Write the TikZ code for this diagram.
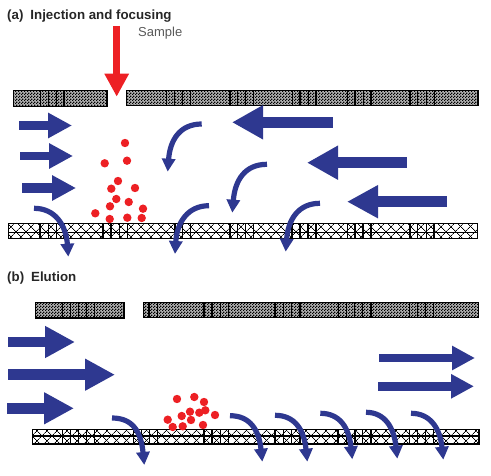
\documentclass[tikz,border=0pt]{standalone}
\usepackage{fontspec}
\setmainfont{Liberation Sans}
\usetikzlibrary{arrows.meta,patterns,patterns.meta}
\definecolor{flowblue}{RGB}{46,56,144}
\definecolor{samplered}{RGB}{237,32,36}
\pgfdeclarepatternformonly{finecheck}{\pgfqpoint{0pt}{0pt}}{\pgfqpoint{3pt}{3pt}}{\pgfqpoint{3pt}{3pt}}{
  \pgfpathrectangle{\pgfqpoint{0pt}{0pt}}{\pgfqpoint{1.5pt}{1.5pt}}
  \pgfpathrectangle{\pgfqpoint{1.5pt}{1.5pt}}{\pgfqpoint{1.5pt}{1.5pt}}
  \pgfusepath{fill}
}
\tikzset{
  title/.style={anchor=base west,inner sep=0pt,text=black!85,font=\fontsize{13.3}{15}\selectfont\bfseries},
  samplelabel/.style={anchor=base west,inner sep=0pt,text=black!65,font=\fontsize{13}{15}\selectfont},
  wall/.style={draw=black,line width=1.2pt,preaction={fill=black!30},pattern=finecheck},
  hatchup/.style={pattern={Lines[angle=45,distance=7.4pt,line width=.8pt]}},
  hatchdown/.style={pattern={Lines[angle=-45,distance=7.4pt,line width=.8pt]}},
  barline/.style={draw=black,line width=1.2pt},
  flow/.style={draw=flowblue,line width=#1},
  bent/.style={draw=flowblue,line width=5.2pt,-{Triangle[length=13pt,width=13pt]}},
  dot/.style={fill=samplered}
}
\begin{document}
\begin{tikzpicture}[x=1pt,y=-1pt]
    \useasboundingbox (0,0) rectangle (491,476);

    % Labels
    \node[title] (titleA) at (7,20) {(a)\hspace{7pt}Injection and focusing};
    \node[samplelabel] (sampleA) at (138,37) {Sample};
    \node[title] (titleB) at (7,282) {(b)\hspace{7pt}Elution};

    % Upper walls of panel (a)
    \draw[wall] (13.5,90.5) rectangle (107,106.5);
    \draw[wall] (126.5,90.5) rectangle (478,105.5);
    \draw[barline] (40.7,90.5) -- (40.7,106.5) (48.7,90.5) -- (48.7,106.5) (56.7,90.5) -- (56.7,106.5) (64,90.5) -- (64,106.5);
    \draw[barline] (166.7,90.5) -- (166.7,105.5) (174.5,90.5) -- (174.5,105.5) (182.5,90.5) -- (182.5,105.5) (190.7,90.5) -- (190.7,105.5);
    \draw[barline] (230,90.5) -- (230,105.5) (237.7,90.5) -- (237.7,105.5) (245.5,90.5) -- (245.5,105.5) (253.3,90.5) -- (253.3,105.5);
    \draw[barline] (292.3,90.5) -- (292.3,105.5) (300,90.5) -- (300,105.5) (308.3,90.5) -- (308.3,105.5) (316,90.5) -- (316,105.5);
    \draw[barline] (347.7,90.5) -- (347.7,105.5) (355,90.5) -- (355,105.5) (363.3,90.5) -- (363.3,105.5) (371,90.5) -- (371,105.5);
    \draw[barline] (410,90.5) -- (410,105.5) (417.7,90.5) -- (417.7,105.5) (426.7,90.5) -- (426.7,105.5) (434.3,90.5) -- (434.3,105.5);

    % Lower membrane of panel (a)
    \path[hatchup] (8.5,223.5) rectangle (477.5,238.5);
    \path[hatchdown] (8.5,223.5) rectangle (477.5,238.5);
    \draw[barline] (8.5,223.5) rectangle (477.5,238.5) (8.5,232.8) -- (477.5,232.8);
    \draw[barline] (40,223.5) -- (40,238.5) (48.3,223.5) -- (48.3,238.5) (56.7,223.5) -- (56.7,238.5) (64,223.5) -- (64,238.5);
    \draw[barline] (103,223.5) -- (103,238.5) (111,223.5) -- (111,238.5) (119.3,223.5) -- (119.3,238.5) (127.3,223.5) -- (127.3,238.5);
    \draw[barline] (175,223.5) -- (175,238.5) (182.7,223.5) -- (182.7,238.5) (190.7,223.5) -- (190.7,238.5);
    \draw[barline] (230,223.5) -- (230,238.5) (237.3,223.5) -- (237.3,238.5) (245.5,223.5) -- (245.5,238.5) (253.3,223.5) -- (253.3,238.5);
    \draw[barline] (292,223.5) -- (292,238.5) (300,223.5) -- (300,238.5) (308,223.5) -- (308,238.5) (316,223.5) -- (316,238.5);
    \draw[barline] (347.7,223.5) -- (347.7,238.5) (355,223.5) -- (355,238.5) (363,223.5) -- (363,238.5) (371,223.5) -- (371,238.5);
    \draw[barline] (410,223.5) -- (410,238.5) (417.7,223.5) -- (417.7,238.5) (426.7,223.5) -- (426.7,238.5) (434,223.5) -- (434,238.5);

    % Sample inlet
    \draw[draw=samplered,line width=7.5pt,-{Triangle[length=23pt,width=23pt]}] (116.7,26) -- (116.7,96.7);

    % Straight flow arrows of panel (a)
    \draw[flow=8.5pt,-{Triangle[length=24pt,width=24pt]}] (19,125.5) -- (72,125.5);
    \draw[flow=8.5pt,-{Triangle[length=24pt,width=24pt]}] (20,156) -- (73,156);
    \draw[flow=9.5pt,-{Triangle[length=24pt,width=24pt]}] (22,188) -- (76,188);
    \draw[flow=11pt,-{Triangle[length=31pt,width=32pt]}] (332.7,122.3) -- (232,122.3);
    \draw[flow=11pt,-{Triangle[length=31pt,width=32pt]}] (406.7,162.7) -- (307,162.7);
    \draw[flow=11pt,-{Triangle[length=31pt,width=31pt]}] (446.7,201.7) -- (347,201.7);

    % Bent flow arrows of panel (a)
    \draw[bent] (201.7,124) .. controls (180,124) and (170,140) .. (167.7,171.7);
    \draw[bent] (267,164.3) .. controls (245,164.3) and (235,180) .. (232.3,212.7);
    \draw[bent] (34,208.3) .. controls (55,208.3) and (66,225) .. (68.3,256.7);
    \draw[bent] (209,205.7) .. controls (188,205.7) and (177,222) .. (175,254);
    \draw[bent] (320,203.3) .. controls (298,203.3) and (288,220) .. (285.7,251.7);

    % Sample zone of panel (a)
    \fill[dot] (125,143) circle (4.2);
    \fill[dot] (104.7,163.3) circle (4.2);
    \fill[dot] (127,160.7) circle (4.2);
    \fill[dot] (118,181) circle (4.2);
    \fill[dot] (111.3,188.7) circle (4.2);
    \fill[dot] (135,188) circle (4.2);
    \fill[dot] (116.3,199) circle (4.2);
    \fill[dot] (110,206.3) circle (4.2);
    \fill[dot] (128.7,202) circle (4.2);
    \fill[dot] (143,208.7) circle (4.2);
    \fill[dot] (95.3,213.3) circle (4.2);
    \fill[dot] (109.7,219) circle (4.2);
    \fill[dot] (127.3,217.7) circle (4.2);
    \fill[dot] (141.7,218) circle (4.2);

    % Upper walls of panel (b)
    \draw[wall] (35.5,302.5) rectangle (124,318);
    \draw[wall] (143.5,302.5) rectangle (478.5,317.5);
    \draw[barline] (62.3,302.5) -- (62.3,318) (70.7,302.5) -- (70.7,318) (78.7,302.5) -- (78.7,318) (86.7,302.5) -- (86.7,318) (94.7,302.5) -- (94.7,318);
    \draw[barline] (149,302.5) -- (149,317.5) (157.3,302.5) -- (157.3,317.5);
    \draw[barline] (204,302.5) -- (204,317.5) (212,302.5) -- (212,317.5) (220.3,302.5) -- (220.3,317.5) (228.7,302.5) -- (228.7,317.5);
    \draw[barline] (275,302.5) -- (275,317.5) (283.3,302.5) -- (283.3,317.5) (291.7,302.5) -- (291.7,317.5) (300,302.5) -- (300,317.5);
    \draw[barline] (338.3,302.5) -- (338.3,317.5) (346.7,302.5) -- (346.7,317.5) (354.3,302.5) -- (354.3,317.5) (362.7,302.5) -- (362.7,317.5) (371,302.5) -- (371,317.5);
    \draw[barline] (409.3,302.5) -- (409.3,317.5) (417.7,302.5) -- (417.7,317.5) (425.7,302.5) -- (425.7,317.5) (433.7,302.5) -- (433.7,317.5);

    % Lower membrane of panel (b)
    \path[hatchup] (32.5,429.5) rectangle (479,444);
    \path[hatchdown] (32.5,429.5) rectangle (479,444);
    \draw[barline] (32.5,429.5) rectangle (479,444) (32.5,436) -- (479,436);
    \draw[line width=2pt] (32,444) -- (479.5,444);
    \draw[barline] (62.3,429.5) -- (62.3,444) (70.7,429.5) -- (70.7,444) (78.7,429.5) -- (78.7,444) (86.7,429.5) -- (86.7,444) (94.7,429.5) -- (94.7,444);
    \draw[barline] (133.3,429.5) -- (133.3,444) (141.3,429.5) -- (141.3,444) (149.3,429.5) -- (149.3,444) (157.3,429.5) -- (157.3,444);
    \draw[barline] (204,429.5) -- (204,444) (212,429.5) -- (212,444) (220.3,429.5) -- (220.3,444) (228.7,429.5) -- (228.7,444);
    \draw[barline] (275,429.5) -- (275,444) (283.3,429.5) -- (283.3,444) (291.7,429.5) -- (291.7,444) (300,429.5) -- (300,444);
    \draw[barline] (338,429.5) -- (338,444) (346.7,429.5) -- (346.7,444) (355,429.5) -- (355,444) (362.7,429.5) -- (362.7,444) (371,429.5) -- (371,444);
    \draw[barline] (409.3,429.5) -- (409.3,444) (417.7,429.5) -- (417.7,444) (425.7,429.5) -- (425.7,444) (433.7,429.5) -- (433.7,444);

    % Straight flow arrows of panel (b)
    \draw[flow=10.5pt,-{Triangle[length=30pt,width=30pt]}] (8,342) -- (75,342);
    \draw[flow=11pt,-{Triangle[length=30pt,width=30pt]}] (8,374.7) -- (115,374.7);
    \draw[flow=11pt,-{Triangle[length=30pt,width=30pt]}] (7,408.3) -- (74,408.3);
    \draw[flow=8pt,-{Triangle[length=23pt,width=23pt]}] (379,358) -- (475,358);
    \draw[flow=9pt,-{Triangle[length=23pt,width=23pt]}] (378,386.3) -- (474,386.3);

    % Bent flow arrows of panel (b)
    \draw[bent] (112,418) .. controls (133,418) and (141,432) .. (144.3,465);
    \draw[bent] (230,415.7) .. controls (250,415.7) and (259,430) .. (262.3,461.7);
    \draw[bent] (275,415.3) .. controls (295,415.3) and (304,430) .. (307.3,461.7);
    \draw[bent] (320.3,413.3) .. controls (340,413.3) and (349,428) .. (352.3,459.3);
    \draw[bent] (366,412.3) .. controls (385,412.3) and (394,428) .. (397.3,458.7);
    \draw[bent] (411,413.3) .. controls (430,413.3) and (440,428) .. (443.3,459.7);

    % Sample zone of panel (b)
    \fill[dot] (177,399) circle (4.2);
    \fill[dot] (194.3,397) circle (4.2);
    \fill[dot] (204,402) circle (4.2);
    \fill[dot] (205.3,410.3) circle (4.2);
    \fill[dot] (199.3,412.7) circle (4.2);
    \fill[dot] (190,411.7) circle (4.2);
    \fill[dot] (181.7,416) circle (4.2);
    \fill[dot] (215,415) circle (4.2);
    \fill[dot] (191,420) circle (4.2);
    \fill[dot] (167.7,419.7) circle (4.2);
    \fill[dot] (172.7,427) circle (4.2);
    \fill[dot] (182.7,426.3) circle (4.2);
    \fill[dot] (203,425) circle (4.2);
\end{tikzpicture}
\end{document}
